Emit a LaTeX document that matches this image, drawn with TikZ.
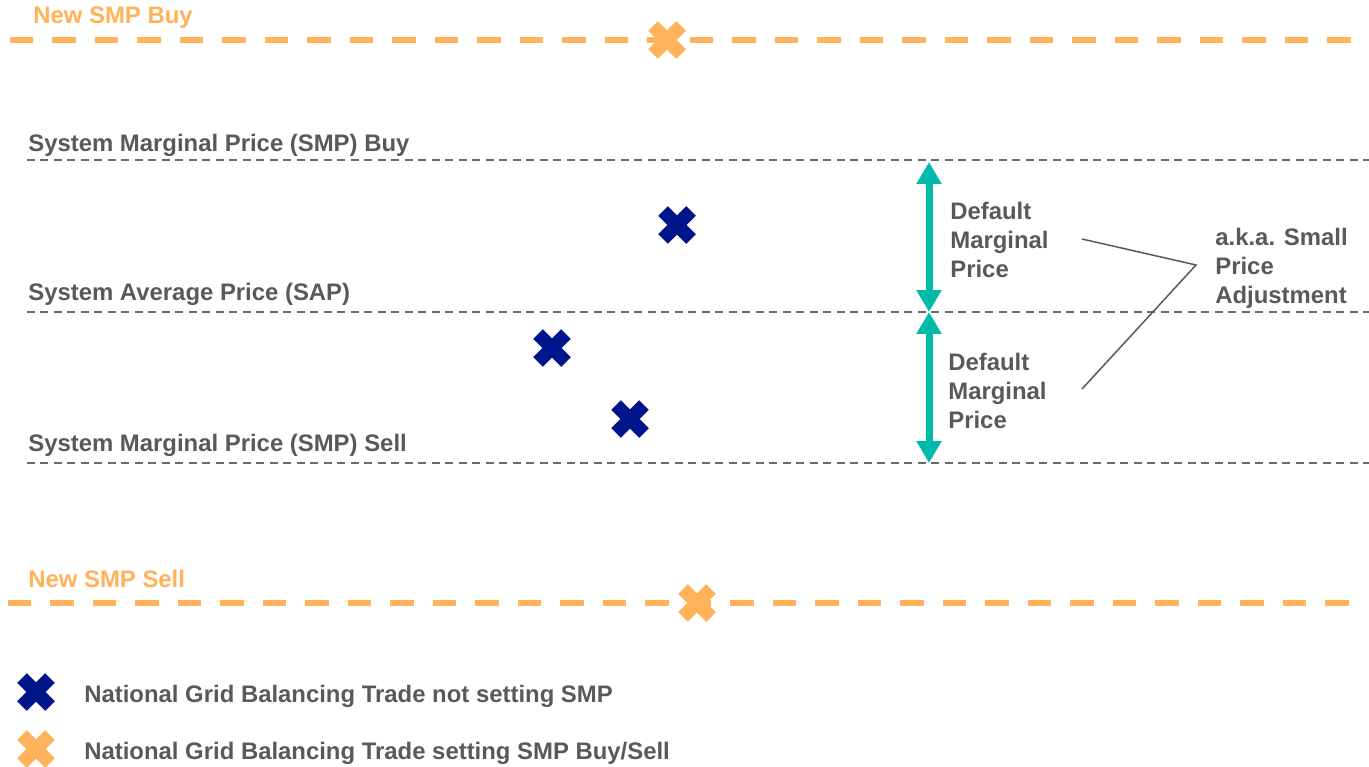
\documentclass[tikz,border=0pt]{standalone}
\usepackage{fontspec}
\setmainfont{Liberation Sans}
\usepackage{xcolor}
\usepackage{tikz}
\usetikzlibrary{arrows.meta,shapes.misc}
\definecolor{smporange}{RGB}{255,178,89}
\definecolor{ngblue}{RGB}{0,20,140}
\definecolor{dmpteal}{RGB}{0,187,170}
\definecolor{labelgrey}{RGB}{89,89,89}
\definecolor{linegrey}{RGB}{105,105,105}

\begin{document}
\begin{tikzpicture}[x=0.02cm,y=-0.02cm,
  lbl/.style={font=\fontsize{13.6}{16.5}\selectfont\bfseries, text=labelgrey, inner sep=0pt},
  newlbl/.style={lbl, text=smporange},
  greydash/.style={linegrey, line width=0.04cm, dash pattern=on 0.16cm off 0.11cm},
  orangedash/.style={smporange, line width=0.12cm, dash pattern=on 0.47cm off 0.38cm},
  xmark/.style={cross out, draw, line width=0.27cm, minimum size=0.56cm, inner sep=0pt, outer sep=0pt},
  ngx/.style={xmark, ngblue},
  smpx/.style={xmark, smporange},
  dmparrow/.style={dmpteal, line width=0.14cm, {Triangle[width=0.48cm,length=0.44cm]}-{Triangle[width=0.48cm,length=0.44cm]}},
  connector/.style={labelgrey, line width=0.03cm}]
\useasboundingbox (0,0) rectangle (1369,767);

\draw[orangedash] (10,40) -- (1369,40);
\node[newlbl, anchor=base west] (newbuy) at (33,24) {New SMP Buy};
\node[smpx] (xbuy) at (667,40) {};

\draw[greydash] (27,160) -- (1369,160);
\draw[greydash] (27,312) -- (1369,312);
\draw[greydash] (27,463) -- (1369,463);
\node[lbl, anchor=base west] (smpbuy) at (28,152) {System Marginal Price (SMP) Buy};
\node[lbl, anchor=base west] (sap) at (28,300) {System Average Price (SAP)};
\node[lbl, anchor=base west] (smpsell) at (28,451) {System Marginal Price (SMP) Sell};

\node[ngx] (trade1) at (677,225) {};
\node[ngx] (trade2) at (552,348) {};
\node[ngx] (trade3) at (630,419) {};

\coordinate (dmptop) at (929,162);
\coordinate (dmpmid) at (929,312);
\coordinate (dmpbot) at (929,463);
\draw[dmparrow] (dmptop) -- (dmpmid);
\draw[dmparrow] (dmpmid) -- (dmpbot);
\node[lbl, align=left, anchor=west] (dmpup) at (950,240) {Default\\Marginal\\Price};
\node[lbl, align=left, anchor=west] (dmpdown) at (948,391) {Default\\Marginal\\Price};
\node[lbl, align=left, anchor=west] (aka) at (1215,268) {a.k.a. Small\\Price\\Adjustment};
\coordinate (dmpupend) at (1082,239);
\coordinate (dmpdownend) at (1082,389);
\coordinate (akajoin) at (1196,265);
\draw[connector] (dmpupend) -- (akajoin) -- (dmpdownend);

\draw[orangedash] (8,603) -- (1352,603);
\node[newlbl, anchor=base west] (newsell) at (28,587) {New SMP Sell};
\node[smpx] (xsell) at (697,603) {};

\node[ngx] (legblue) at (36,692) {};
\node[lbl, anchor=base west] (legbluetxt) at (84,702) {National Grid Balancing Trade not setting SMP};
\node[smpx] (legorange) at (36,749) {};
\node[lbl, anchor=base west] (legorangetxt) at (84,759) {National Grid Balancing Trade setting SMP Buy/Sell};
\end{tikzpicture}
\end{document}
